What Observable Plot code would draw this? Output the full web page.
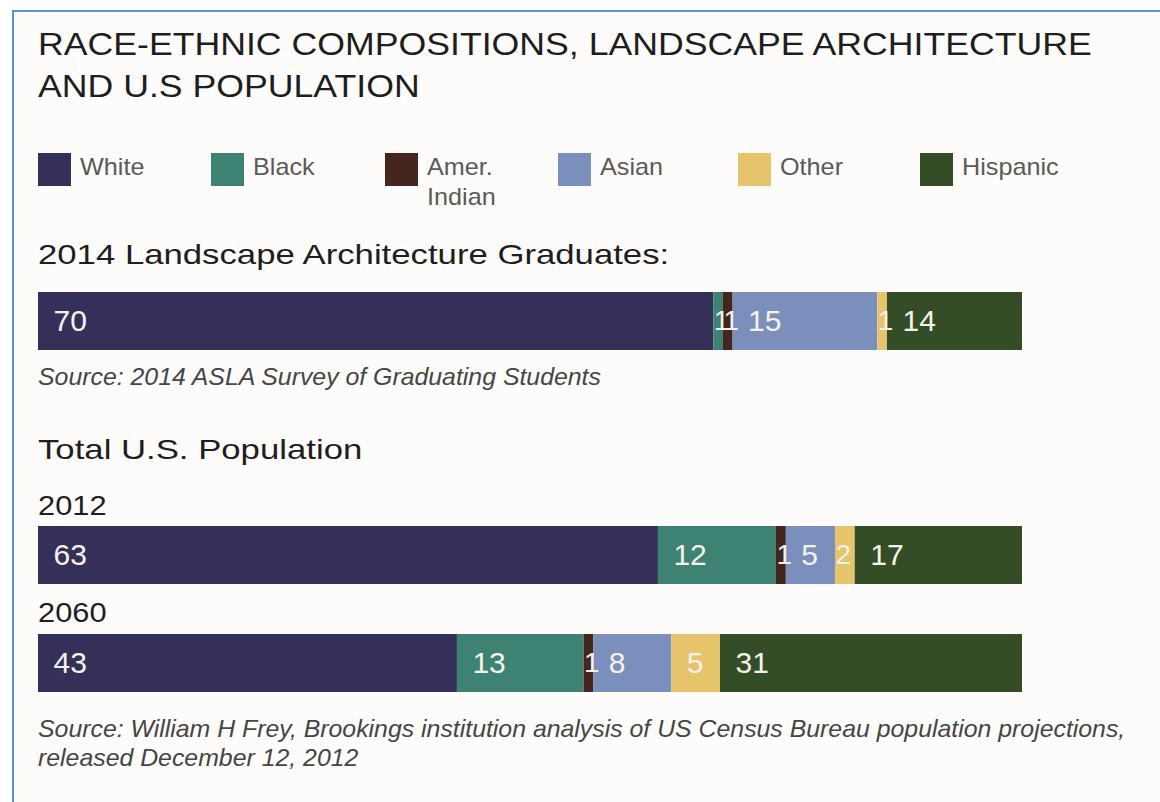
<!DOCTYPE html>
<html>
<head>
<meta charset="utf-8">
<script src="https://cdn.jsdelivr.net/npm/d3@7"></script>
<script src="https://cdn.jsdelivr.net/npm/@observablehq/plot@0.6"></script>
<style>
  html, body { margin: 0; padding: 0; background: #ffffff; overflow: hidden; }
  body { width: 1160px; height: 802px; position: relative; font-family: "Liberation Sans", Arial, Helvetica, sans-serif; }
  #panel { position: absolute; left: 12px; top: 10px; width: 1200px; height: 840px; border-left: 2px solid #5f8fd6; border-top: 2px solid #5f8fd6; background: #fdfcfb; }
  .abs { position: absolute; line-height: 1; white-space: pre; transform-origin: 0 0; }
  .title { font-size: 31px; color: #1e1e1e; line-height: 42px; transform: scaleX(1.15); }
  .head { font-size: 28px; color: #1e1e1e; transform: scaleX(1.24); }
  .year { font-size: 28px; color: #1e1e1e; transform: scaleX(1.1); }
  .src { font-size: 24px; font-style: italic; color: #454545; line-height: 29px; transform: scaleX(1.035); }
  .leg-sw { position: absolute; width: 33px; height: 33px; }
  .leg-lb { position: absolute; font-size: 24px; color: #5a5a5a; line-height: 30px; white-space: pre; transform-origin: 0 0; transform: scaleX(1.05); }
  .bar { position: absolute; left: 38px; }
</style>
</head>
<body>
<div id="panel"></div>
<script>
// ---- data ----
const races = ["White", "Black", "Amer. Indian", "Asian", "Other", "Hispanic"];
const raceLabels = ["White", "Black", "Amer.\nIndian", "Asian", "Other", "Hispanic"];
const colors = ["#34305a", "#3d8272", "#45261f", "#7b8fbd", "#e5c46c", "#344d27"];
const grads2014 = [70, 1, 1, 15, 1, 14];
const pop2012 = [63, 12, 1, 5, 2, 17];
const pop2060 = [43, 13, 1, 8, 5, 31];

const titleText = "RACE-ETHNIC COMPOSITIONS, LANDSCAPE ARCHITECTURE\nAND U.S POPULATION";
const headGrads = "2014 Landscape Architecture Graduates:";
const srcGrads = "Source: 2014 ASLA Survey of Graduating Students";
const headPop = "Total U.S. Population";
const years = ["2012", "2060"];
const srcPop = "Source: William H Frey, Brookings institution analysis of US Census Bureau population projections,\nreleased December 12, 2012";

// ---- layout helpers ----
const body = document.body;
function addText(cls, text, left, top) {
  const d = document.createElement("div");
  d.className = "abs " + cls;
  d.style.left = left + "px";
  d.style.top = top + "px";
  d.textContent = text;
  body.appendChild(d);
  return d;
}

addText("title", titleText, 38, 24);

// legend
const legX = [38, 211, 385, 558, 738, 920];
races.forEach((r, i) => {
  const sw = document.createElement("div");
  sw.className = "leg-sw";
  sw.style.left = legX[i] + "px";
  sw.style.top = "153px";
  sw.style.background = colors[i];
  body.appendChild(sw);
  const lb = document.createElement("div");
  lb.className = "leg-lb";
  lb.style.left = (legX[i] + 42) + "px";
  lb.style.top = "152px";
  lb.textContent = raceLabels[i];
  body.appendChild(lb);
});

function stackedBar(values, top) {
  const data = races.map((r, i) => ({race: r, value: values[i]}));
  const common = {x: "value", offset: "normalize"};
  const label = (test, dx, size) => Plot.text(data, Plot.stackX1({...common,
    text: d => test(d.value) ? String(d.value) : "",
    textAnchor: "start", frameAnchor: "middle", dx, fill: "#f6f2ea", fontSize: size,
    fontFamily: "Liberation Sans, Arial, sans-serif"}));
  const plot = Plot.plot({
    width: 984,
    height: 58,
    margin: 0,
    x: {axis: null},
    y: {axis: null},
    color: {domain: races, range: colors},
    style: {background: "transparent", overflow: "visible"},
    marks: [
      Plot.barX(data, Plot.stackX({...common, fill: "race"})),
      label(v => v >= 3, 15, 30),
      label(v => v < 3, 0, 28)
    ]
  });
  plot.classList.add("bar");
  plot.style.top = top + "px";
  body.appendChild(plot);
}

addText("head", headGrads, 38, 241);
stackedBar(grads2014, 292);
addText("src", srcGrads, 38, 362);
addText("head", headPop, 38, 436);
addText("year", years[0], 38, 492);
stackedBar(pop2012, 526);
addText("year", years[1], 38, 599);
stackedBar(pop2060, 634);
addText("src", srcPop, 38, 714);
</script>
</body>
</html>
